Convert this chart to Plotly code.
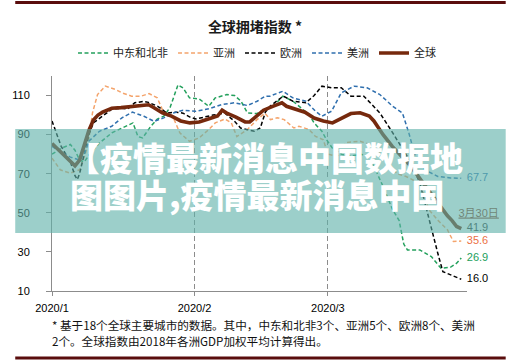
import pandas as pd
import plotly.graph_objects as go

START = pd.Timestamp("2020-01-01")

# ---- data: day offsets from 2020-01-01 and index values ----
mena_days = [0, 2, 4, 5, 6, 7, 8.1, 10.3, 13, 15.9, 17.6, 18.7, 19.7, 21.5, 22.9, 24.3, 25.7,
             27.4, 28.5, 29.9, 32, 34.1, 35.5, 38, 39.7, 41.1, 42.5, 44.6, 46.4, 48.1, 50.2,
             52.4, 53.7, 55.9, 57, 58.7, 59.7, 61, 63, 65, 67, 69, 72, 74, 75.5, 76.5, 77.3,
             80, 82.5, 84.6, 86.7, 88, 89]
mena_vals = [80, 83, 85, 82, 77, 76, 79.7, 85.7, 90.9, 94.3, 96, 89, 88.3, 94.3, 98, 99.4, 104,
             115.5, 113.9, 108.8, 108.3, 104.5, 108.8, 110.5, 110, 107.1, 101.1, 100.8, 103.2, 104.5, 109.7,
             107.1, 104.5, 100.3, 96, 91.7, 87.4, 83, 80, 79, 80, 79, 63.5, 52, 46, 34, 31,
             31, 27.6, 21.6, 22.2, 24.2, 26.9]

asia_days = [0, 1.8, 3.9, 6, 7.8, 8.8, 9.9, 11.6, 13.8, 15.2, 17.3, 19.4, 21.1, 22.9, 24.3, 26.4,
             27.8, 29.9, 32, 34.1, 35.5, 37.6, 39, 40.2, 42.5, 44.6, 46.3, 47.5, 49, 50.5, 52.6,
             53.7, 55.9, 57.3, 59, 60, 62, 64, 67, 69, 71, 73, 75, 77, 79, 80, 82, 84, 86, 87.3, 89]
asia_vals = [78, 72, 70.3, 72, 84, 101.1, 110.5, 114.8, 113.1, 111.4, 109.7, 109.7, 111, 108.8, 101.1, 98.6,
             90.9, 86.6, 88.3, 92.6, 96, 98, 96, 89, 92.6, 97.7, 101, 97.7, 98.6, 97.7, 93.4,
             94.3, 92.6, 89.1, 87.4, 80, 79, 86, 86.6, 85, 82, 76, 70, 68.6, 66, 65, 51.5, 46, 41.3, 35.3, 35.6]

europe_days = [0, 1, 2, 3, 4, 5, 5.5, 6, 7, 8, 9, 10.5, 12, 13, 15, 16.5, 18, 20, 21, 23, 25, 27,
               28.5, 30, 31.3, 33, 35, 37.6, 39.7, 41, 43, 44, 45.3, 46.4, 47.4, 50.3, 52.4, 55.2,
               57, 58.7, 60.8, 62.9, 65, 67.8, 69.2, 71.3, 74.1, 76.9, 78, 80, 81.8, 82.9, 83.9,
               85, 86.7, 88.8, 89]
europe_vals = [97, 90, 84, 80, 76, 69, 67, 70, 80, 90, 96, 98.6, 101, 103, 103.5, 103.2, 106.3, 107, 106.5, 104.5, 101, 101.5,
               101, 99, 98, 99, 100, 101, 96.8, 93.4, 92.5, 91.7, 93.4, 101.5, 104.5, 109.7, 107.1, 106.3,
               110, 114.8, 114, 114, 109.7, 109.7, 106.3, 101.1, 90.9, 80.6, 76, 65.2, 48.1, 37.8, 29.3,
               19.9, 18.2, 16.5, 16.0]

america_days = [0, 2, 4, 6, 7, 8, 10.3, 13, 15.2, 17.5, 20, 22.2, 24.3, 26.4, 28.5, 31.3, 34.1, 36.9,
                39.7, 42.5, 44.6, 46.4, 47.4, 50.2, 52.4, 55.2, 57.3, 58.7, 60.8, 62.9, 65.7, 68.5,
                71.3, 74.1, 76.2, 77.6, 79, 81.1, 83.9, 86.7, 89]
america_vals = [84, 81, 78.5, 77, 80, 86.6, 91.7, 94.3, 98.6, 101.5, 99.4, 96.8, 98.6, 101.1, 102.5, 102, 103.2, 105.4,
                106.3, 104.9, 107.1, 109.7, 109.7, 112.2, 108.8, 107.1, 102, 99.4, 102, 111.4, 114.8, 114,
                110.5, 104.5, 101.1, 90.9, 78.9, 72, 68.6, 67.8, 67.7]

global_days = [0, 2, 4, 5, 6, 7, 8, 9, 10, 11, 13, 15, 17, 19, 21, 22, 23, 24, 26, 28, 30, 32, 34, 36,
               37, 38, 40, 42, 43, 44, 46, 48, 50, 51, 53, 55, 57, 59, 61, 63, 65, 67, 69, 70, 72,
               74, 76, 78, 80, 82, 84, 86, 87, 88, 89]
global_vals = [85.5, 81, 76, 74, 77, 84, 92, 97.5, 100, 101.5, 103.5, 103.8, 104.3, 104.5, 105.3, 104, 102.8, 101.2, 99.5, 97, 96, 96.5, 98, 99.5,
               102.5, 101, 99, 96.5, 96.5, 98.5, 102.5, 104.5, 106.3, 104.5, 103, 101.5, 98.5, 97, 96, 98.5, 100.8, 101.2, 99.5, 97, 90,
               84, 79, 74, 67.5, 61, 55, 48.5, 46, 43, 41.9]

series_names = ["中东和北非", "亚洲", "欧洲", "美洲", "全球"]
series_colors = ["#23a05c", "#f4a46c", "#000000", "#2f6fae", "#76290d"]

end_labels = ["26.9", "35.6", "16.0", "67.7", "41.9"]
end_label_colors = ["#23a05c", "#ec6f43", "#000000", "#2f6fae", "#3a3a3a"]
date_label = "3月30日"

x_ticks = ["2020-01-01", "2020-02-01", "2020-03-01"]
x_ticktext = ["2020/1", "2020/2", "2020/3"]
y_ticks = [10, 30, 50, 70, 90, 110]

title_text = "全球拥堵指数 *"
note_line1 = "* 基于18个全球主要城市的数据。其中，中东和北非3个、亚洲5个、欧洲8个、美洲"
note_line2 = "2个。全球指数由2018年各洲GDP加权平均计算得出。"
banner_line1 = "【疫情最新消息中国数据地"
banner_line2 = "图图片,疫情最新消息中国"


def to_dates(days):
    return [START + pd.Timedelta(days=d) for d in days]


all_days = [mena_days, asia_days, europe_days, america_days, global_days]
all_vals = [mena_vals, asia_vals, europe_vals, america_vals, global_vals]

fig = go.Figure()
for name, color, d, v in zip(series_names, series_colors, all_days, all_vals):
    is_global = name == "全球"
    fig.add_trace(go.Scatter(
        x=to_dates(d), y=v, mode="lines", name=name,
        line=dict(color=color, width=3.6 if is_global else 1.5,
                  dash="solid" if is_global else "4px,2.5px"),
    ))

LBL_FONT = "Liberation Sans, Noto Sans CJK SC, sans-serif"
label_x = START + pd.Timedelta(days=90.2)
for lbl, col, v in zip(end_labels, end_label_colors, all_vals):
    fig.add_trace(go.Scatter(
        x=[label_x], y=[v[-1]], mode="text", text=[lbl], textposition="middle right",
        textfont=dict(size=11, color=col, family=LBL_FONT),
        showlegend=False, hoverinfo="skip", cliponaxis=False,
    ))
fig.add_trace(go.Scatter(
    x=[START + pd.Timedelta(days=88.4)], y=[49.5], mode="text", text=["<u>" + date_label + "</u>"],
    textposition="middle right", textfont=dict(size=11, color="#8e3b25", family=LBL_FONT),
    showlegend=False, hoverinfo="skip", cliponaxis=False,
))

# geometry helpers (plot area: px 38..467 x, 76..291 y)
T, B = 76, 291
PH = B - T


def py(p):
    return (B - p) / PH


CJK = "Noto Sans CJK SC, sans-serif"
PW = 467 - 38


def px_(p):
    return (p - 38) / PW


fig.update_layout(
    width=507, height=363, autosize=False,
    margin=dict(l=38, r=40, t=T, b=363 - B, pad=0),
    paper_bgcolor="white", plot_bgcolor="white",
    title=dict(text="<b>" + title_text + "</b>", x=0.503, xanchor="center",
               y=1 - 27 / 363, yanchor="middle",
               font=dict(family=CJK, size=14, color="#1a1a1a")),
    legend=dict(orientation="h", x=0.494, xanchor="center", y=py(53), yanchor="middle",
                font=dict(family=CJK, size=11, color="#222"), itemwidth=30,
                bgcolor="rgba(0,0,0,0)"),
    xaxis=dict(type="date", range=["2020-01-01", "2020-03-31 06:00"],
               tickvals=x_ticks, ticktext=x_ticktext,
               showline=True, linecolor="#8c8c8c", linewidth=1,
               ticks="outside", ticklen=4, tickcolor="#8c8c8c", ticklabelstandoff=3,
               showgrid=True, gridcolor="#8c8c8c", griddash="5px,3px", gridwidth=1,
               zeroline=False, tickfont=dict(family="Liberation Sans", size=11, color="#000")),
    yaxis=dict(range=[10, 120], tickvals=y_ticks, showline=True, linecolor="#8c8c8c",
               linewidth=1, ticks="outside", ticklen=5, tickcolor="#8c8c8c",
               showgrid=False, zeroline=False, ticklabelstandoff=14,
               tickfont=dict(family="Liberation Sans", size=11, color="#000")),
    showlegend=True,
)

shapes = [
    # top and bottom maroon rules
    dict(type="line", xref="paper", yref="paper", x0=px_(0), x1=px_(507), y0=py(2.5), y1=py(2.5),
         line=dict(color="#5a0d0d", width=3)),
    dict(type="line", xref="paper", yref="paper", x0=px_(0), x1=px_(507), y0=py(358), y1=py(358),
         line=dict(color="#5a0d0d", width=3)),
    # translucent banner
    dict(type="rect", xref="paper", yref="paper", x0=px_(0), x1=px_(507), y0=py(233), y1=py(129),
         fillcolor="rgba(95,178,170,0.62)", line=dict(width=0), layer="above"),
]
fig.update_layout(shapes=shapes)

annos = [
    dict(text=note_line1, x=px_(36), y=py(325)),
    dict(text=note_line2, x=px_(36), y=py(341)),
]
for a in annos:
    fig.add_annotation(xref="paper", yref="paper", xanchor="left", yanchor="middle",
                       showarrow=False, font=dict(family=CJK, size=11.6, color="#111"), **a)

for txt, xx, yy in [(banner_line1, 51, 157), (banner_line2, 55, 194)]:
    fig.add_annotation(xref="paper", yref="paper", x=px_(xx), y=py(yy), xanchor="left",
                       yanchor="middle", text=txt, showarrow=False,
                       font=dict(family=CJK, size=33, color="white", weight=900))

fig.write_html("out.html", config={"displayModeBar": False},
               post_script="document.body.style.margin='0px';document.body.style.overflow='hidden';")
